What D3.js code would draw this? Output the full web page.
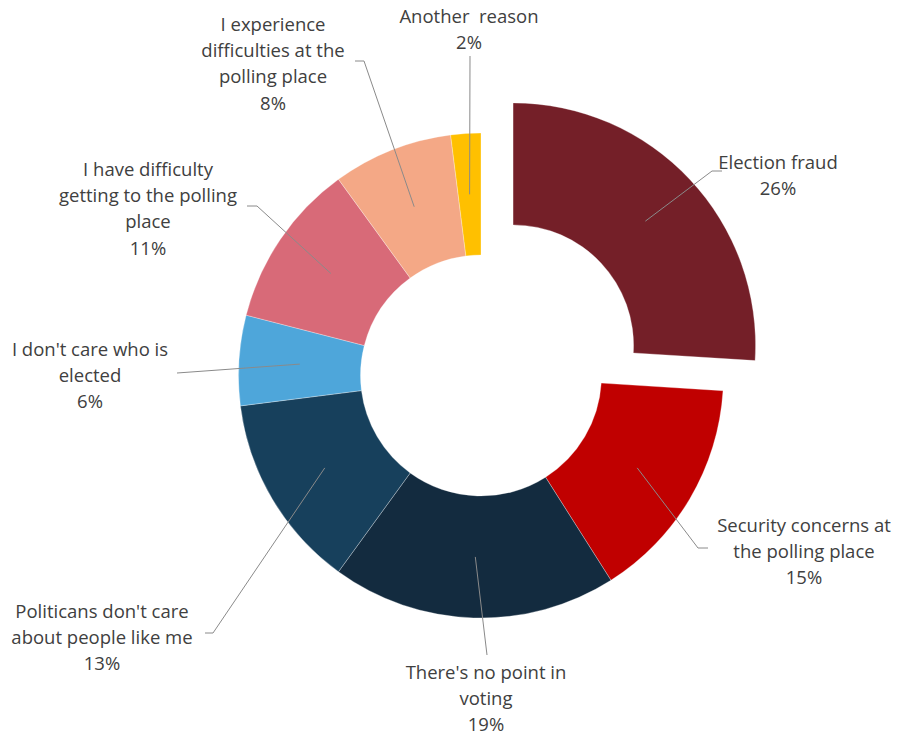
<!DOCTYPE html>
<html>
<head>
<meta charset="utf-8">
<script src="https://cdn.jsdelivr.net/npm/d3@7"></script>
<style>
  html, body { margin: 0; padding: 0; background: #fff; }
  #chart { width: 903px; height: 736px; }
</style>
</head>
<body>
<div id="chart"></div>
<script>
// Data (clockwise from 12 o'clock)
const categories = [
  'Election fraud',
  'Security concerns at the polling place',
  "There's no point in voting",
  "Politicans don't care about people like me",
  "I don't care who is elected",
  'I have difficulty getting to the polling place',
  'I experience difficulties at the polling place',
  'Another reason'
];
const values = [26, 15, 19, 13, 6, 11, 8, 2];
const colors = ['#741F28', '#C00000', '#132B3F', '#17405C', '#4EA6DA', '#D86A78', '#F4A886', '#FFC000'];
const exploded = [true, false, false, false, false, false, false, false];

// Label text broken as in the original
const labelLines = [
  ['Election fraud'],
  ['Security concerns at', 'the polling place'],
  ["There's no point in", 'voting'],
  ["Politicans don't care", 'about people like me'],
  ["I don't care who is", 'elected'],
  ['I have difficulty', 'getting to the polling', 'place'],
  ['I experience', 'difficulties at the', 'polling place'],
  ['Another  reason']
];

// Label placement: text centre, first line middle, leader elbow + tail end
const labelLayout = [
  { x: 778, y: 161, elbow: [712, 171], tail: [722, 171] },
  { x: 804, y: 524, elbow: [698, 548], tail: [708, 548] },
  { x: 486, y: 671, elbow: [487, 655], tail: null },
  { x: 102, y: 610, elbow: [213, 633], tail: [205, 633] },
  { x: 90,  y: 348, elbow: [177, 373], tail: null },
  { x: 148, y: 168, elbow: [257, 206], tail: [247, 206] },
  { x: 273, y: 23,  elbow: [364, 61],  tail: [355, 61] },
  { x: 469, y: 15,  elbow: [470, 56],  tail: null }
];

const width = 903, height = 736;
const cx = 481, cy = 375.5;
const rOuter = 242.5, rInner = 120.5;
const explodeDist = 44;
const lineH = 26.2;

const svg = d3.select('#chart').append('svg')
  .attr('width', width)
  .attr('height', height);

const data = categories.map((c, i) => ({ name: c, value: values[i], i }));

const pie = d3.pie().sort(null).value(d => d.value);
const arcs = pie(data);

const arc = d3.arc().innerRadius(rInner).outerRadius(rOuter);

function offset(a) {
  if (!exploded[a.data.i]) return [0, 0];
  const mid = (a.startAngle + a.endAngle) / 2;
  return [Math.sin(mid) * explodeDist, -Math.cos(mid) * explodeDist];
}

const g = svg.append('g').attr('transform', `translate(${cx},${cy})`);

g.selectAll('path.slice')
  .data(arcs)
  .enter()
  .append('path')
  .attr('class', 'slice')
  .attr('d', arc)
  .attr('transform', d => `translate(${offset(d)[0]},${offset(d)[1]})`)
  .attr('fill', d => colors[d.data.i])
  .attr('stroke', '#fff')
  .attr('stroke-opacity', 0.6)
  .attr('stroke-width', 0.5);

// Leader lines
const leaderG = svg.append('g');
arcs.forEach(a => {
  const i = a.data.i;
  const c = arc.centroid(a);
  const o = offset(a);
  const start = [cx + c[0] + o[0], cy + c[1] + o[1]];
  const L = labelLayout[i];
  const pts = [start, L.elbow];
  if (L.tail) pts.push(L.tail);
  leaderG.append('path')
    .attr('d', d3.line()(pts))
    .attr('fill', 'none')
    .attr('stroke', '#8a8a8a')
    .attr('stroke-width', 1);
});

// Labels
const labelG = svg.append('g')
  .attr('font-family', '"Open Sans", sans-serif')
  .attr('font-size', '18.5px')
  .attr('fill', '#404040')
  .attr('text-anchor', 'middle');

arcs.forEach(a => {
  const i = a.data.i;
  const L = labelLayout[i];
  const lines = labelLines[i].concat([values[i] + '%']);
  const t = labelG.append('text')
    .attr('x', L.x)
    .attr('y', L.y)
    .attr('dominant-baseline', 'central');
  lines.forEach((ln, k) => {
    t.append('tspan')
      .attr('x', L.x)
      .attr('y', L.y + k * lineH)
      .attr('xml:space', 'preserve')
      .text(ln);
  });
});
</script>
</body>
</html>
